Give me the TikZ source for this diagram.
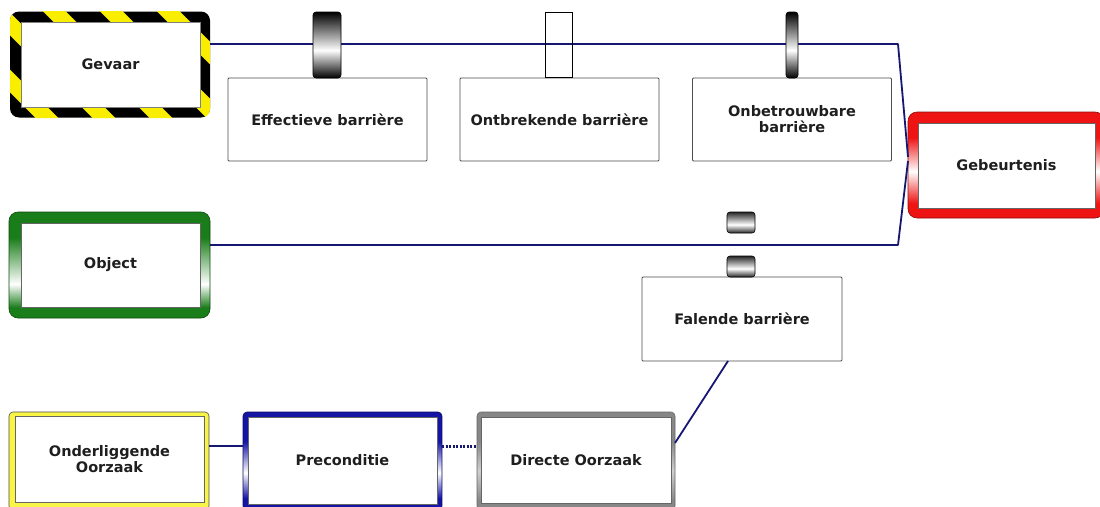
\documentclass[tikz,border=0pt]{standalone}
\usepackage{fontspec}
\setmainfont{DejaVu Sans}
\usetikzlibrary{calc}
\definecolor{navy}{RGB}{22,22,115}
\definecolor{txt}{RGB}{30,30,30}
\definecolor{gbord}{RGB}{25,125,25}
\definecolor{rbord}{RGB}{238,20,20}
\definecolor{bbord}{RGB}{20,20,165}
\definecolor{grbord}{RGB}{135,135,135}
\definecolor{ybord}{RGB}{248,245,70}
\definecolor{stripey}{RGB}{250,238,0}
\pgfdeclareverticalshading{greenfade}{100bp}{color(0bp)=(gbord); color(30bp)=(gbord); color(41bp)=(white); color(63bp)=(gbord); color(100bp)=(gbord)}
\pgfdeclareverticalshading{redfade}{100bp}{color(0bp)=(rbord); color(32bp)=(rbord); color(47bp)=(white); color(63bp)=(rbord); color(100bp)=(rbord)}
\pgfdeclareverticalshading{bluefade}{100bp}{color(0bp)=(bbord); color(31bp)=(bbord); color(44bp)=(white); color(60bp)=(bbord); color(100bp)=(bbord)}
\pgfdeclareverticalshading{greyfade}{100bp}{color(0bp)=(grbord); color(30bp)=(grbord); color(45bp)=(grbord!40!white); color(60bp)=(grbord); color(100bp)=(grbord)}
\pgfdeclareverticalshading{barshade}{100bp}{color(0bp)=(black); color(25bp)=(black); color(46bp)=(white); color(75bp)=(black); color(100bp)=(black)}
\pgfdeclareverticalshading{smallbar}{100bp}{color(0bp)=(black); color(25bp)=(black!85); color(45bp)=(white); color(75bp)=(black!85); color(100bp)=(black)}
\begin{document}
\begin{tikzpicture}[x=1pt,y=-1pt,
  every node/.style={inner sep=0pt, outer sep=0pt},
  lbl/.style={font=\fontsize{14.5}{16}\selectfont\bfseries, text=txt, align=center},
  innerw/.style={fill=white, draw=black!60, line width=0.6pt, lbl},
  barbox/.style={fill=white, draw=black!70, line width=0.9pt, rounded corners=1pt, lbl, minimum width=199, minimum height=83},
  conn/.style={draw=navy, line width=1.8pt},
  outerbox/.style={rounded corners=9pt, minimum width=#1, minimum height=106},
  lowbox/.style={rounded corners=4pt, minimum width=#1, minimum height=98}
]
\useasboundingbox (0,0) rectangle (1100,506);
\fill[white] (0,0) rectangle (1100,506);

% Gevaar
\node[outerbox=200, fill=black] (gevaar) at (110,64.5) {};
\begin{scope}
  \clip[rounded corners=9pt] (10,11) rectangle (210,118);
  \foreach \i in {-3,...,5}
    \draw[stripey, line width=16pt] ({56+\i*57-160},{13-160}) -- ({56+\i*57+160},{13+160});
\end{scope}
\node[innerw, draw=black!50, minimum width=179, minimum height=85] (gevaarin) at (110.5,64.5) {Gevaar};

% Object
\node[outerbox=201, shading=greenfade, draw=gbord!60!black, line width=0.6pt] (object) at (109.5,265) {};
\node[innerw, minimum width=179, minimum height=84] (objectin) at (110.5,265) {Object};

% Gebeurtenis
\node[outerbox=196, shading=redfade, draw=rbord!60!black, line width=0.6pt] (geb) at (1006,165) {};
\node[innerw, minimum width=177, minimum height=85] (gebin) at (1006.5,165.5) {Gebeurtenis};

% barrier boxes
\node[barbox] (eff) at (327.5,119.5) {Effectieve barrière};
\node[barbox] (ontb) at (559.5,119.5) {Ontbrekende barrière};
\node[barbox] (onbe) at (792,119.5) {Onbetrouwbare\\barrière};
\node[barbox, minimum width=200, minimum height=84] (fal) at (742,319) {Falende barrière};

% bottom row
\node[lowbox=200, fill=ybord, draw=black!70, line width=0.6pt] (ond) at (109,461) {};
\node[innerw, minimum width=189, minimum height=86] (ondin) at (109.5,459) {Onderliggende\\Oorzaak};
\node[lowbox=199, shading=bluefade, draw=bbord!60!black, line width=0.6pt] (prec) at (342.5,461) {};
\node[innerw, minimum width=189, minimum height=87] (precin) at (342.5,460.5) {Preconditie};
\node[lowbox=198, shading=greyfade, draw=black!60, line width=0.6pt] (dir) at (576,461) {};
\node[innerw, minimum width=190, minimum height=86] (dirin) at (576,460) {Directe Oorzaak};

% connectors
\coordinate (tr) at (898,44);
\coordinate (br) at (898,245);
\draw[conn, line join=round] (gevaar.east |- tr) -- (tr) -- ([yshift=8pt]geb.west);
\draw[conn, line join=round] (object.east |- br) -- (br) -- ([yshift=4pt]geb.west);
\draw[conn] ([yshift=15pt]ond.east) -- ([yshift=15pt]prec.west);
\draw[draw=navy, line width=3pt, dash pattern=on 2pt off 1.5pt] ([yshift=15pt]prec.east) -- ([yshift=15pt]dir.west);
\draw[conn] ([xshift=-14pt]fal.south) -- ([yshift=18pt]dir.east);

% barrier symbols
\node[rounded corners=3pt, shading=barshade, draw=black, line width=0.6pt, minimum width=28, minimum height=66] (sym1) at (327,45) {};
\node[draw=black, line width=1.3pt, minimum width=27, minimum height=65] (sym2) at (559,45) {};
\node[rounded corners=3pt, shading=barshade, draw=black, line width=0.6pt, minimum width=12, minimum height=66] (sym3) at (792,45) {};
\node[rounded corners=3pt, shading=smallbar, draw=black, line width=0.6pt, minimum width=28, minimum height=21] (sym4) at (741,222.5) {};
\node[rounded corners=3pt, shading=smallbar, draw=black, line width=0.6pt, minimum width=28, minimum height=21] (sym5) at (741,266.5) {};
\end{tikzpicture}
\end{document}
